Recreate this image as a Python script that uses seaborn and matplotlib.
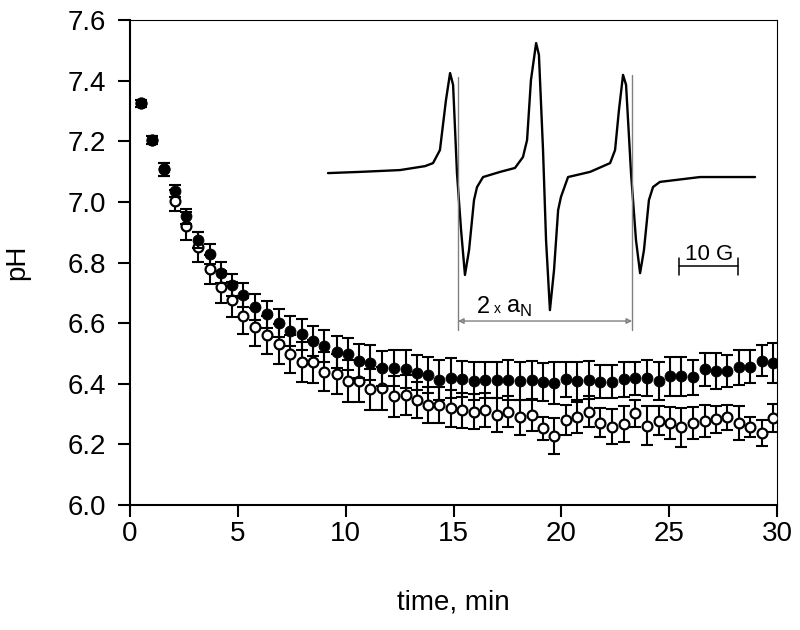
import matplotlib
matplotlib.use('Agg')
import matplotlib.pyplot as plt
import seaborn as sns
import numpy as np

# sampling times (min)
time_min = [0.5, 1.02, 1.58, 2.1, 2.6, 3.14, 3.7, 4.23, 4.74, 5.26,
            5.8, 6.37, 6.9, 7.43, 7.96, 8.5, 9.01, 9.58, 10.09, 10.62,
            11.15, 11.7, 12.23, 12.78, 13.31, 13.83, 14.34, 14.87, 15.41, 15.95,
            16.47, 17.0, 17.54, 18.07, 18.62, 19.15, 19.67, 20.2, 20.74, 21.28,
            21.81, 22.33, 22.9, 23.43, 23.97, 24.51, 25.04, 25.56, 26.1, 26.65,
            27.17, 27.7, 28.22, 28.76, 29.3, 29.83]

# filled circles
ph_filled = [7.325, 7.204, 7.107, 7.036, 6.953, 6.874, 6.828, 6.767, 6.726, 6.692,
             6.654, 6.629, 6.600, 6.574, 6.563, 6.541, 6.525, 6.506, 6.498, 6.475,
             6.469, 6.451, 6.453, 6.448, 6.436, 6.429, 6.412, 6.418, 6.416, 6.410,
             6.412, 6.412, 6.412, 6.410, 6.412, 6.407, 6.403, 6.415, 6.410, 6.412,
             6.407, 6.407, 6.415, 6.418, 6.418, 6.410, 6.425, 6.425, 6.421, 6.448,
             6.442, 6.442, 6.454, 6.456, 6.476, 6.467]
err_filled = [0.011, 0.013, 0.022, 0.02, 0.025, 0.027, 0.033, 0.035, 0.037, 0.039,
              0.042, 0.044, 0.046, 0.048, 0.05, 0.051, 0.052, 0.053, 0.054, 0.056,
              0.058, 0.058, 0.06, 0.062, 0.058, 0.06, 0.066, 0.066, 0.059, 0.063,
              0.06, 0.06, 0.066, 0.062, 0.064, 0.063, 0.069, 0.058, 0.062, 0.062,
              0.055, 0.055, 0.058, 0.055, 0.06, 0.063, 0.064, 0.064, 0.059, 0.055,
              0.058, 0.053, 0.057, 0.055, 0.052, 0.066]

# open circles
ph_open = [7.325, 7.204, 7.107, 7.004, 6.920, 6.852, 6.777, 6.720, 6.678, 6.624,
           6.588, 6.561, 6.530, 6.498, 6.473, 6.473, 6.440, 6.431, 6.409, 6.409,
           6.382, 6.385, 6.359, 6.363, 6.346, 6.330, 6.330, 6.319, 6.313, 6.308,
           6.313, 6.297, 6.308, 6.289, 6.297, 6.253, 6.228, 6.280, 6.289, 6.308,
           6.271, 6.258, 6.267, 6.302, 6.262, 6.278, 6.271, 6.256, 6.271, 6.278,
           6.283, 6.289, 6.271, 6.258, 6.238, 6.286]
err_open = [0.011, 0.013, 0.02, 0.034, 0.046, 0.05, 0.048, 0.053, 0.059, 0.06,
            0.063, 0.063, 0.066, 0.064, 0.066, 0.07, 0.064, 0.066, 0.068, 0.068,
            0.068, 0.071, 0.068, 0.066, 0.06, 0.06, 0.06, 0.06, 0.058, 0.058,
            0.057, 0.055, 0.051, 0.058, 0.052, 0.038, 0.06, 0.049, 0.052, 0.052,
            0.048, 0.058, 0.059, 0.043, 0.063, 0.048, 0.052, 0.063, 0.052, 0.052,
            0.044, 0.041, 0.056, 0.032, 0.042, 0.046]

# inset EPR spectrum, traced vertices (drawn in the axes' data units)
epr_x = [9.18, 10.66, 12.52, 13.68, 14.05, 14.37, 14.65, 14.84, 14.98, 15.16,
         15.35, 15.53, 15.72, 15.95, 16.09, 16.37, 17.16, 17.85, 18.22, 18.41,
         18.59, 18.83, 18.96, 19.15, 19.29, 19.47, 19.66, 19.85, 19.98, 20.31,
         21.33, 22.26, 22.49, 22.67, 22.86, 23.0, 23.23, 23.46, 23.65, 23.83,
         24.06, 24.25, 24.57, 26.43, 28.98]
epr_y = [7.095, 7.099, 7.105, 7.118, 7.128, 7.171, 7.336, 7.425, 7.386, 7.095,
         6.907, 6.759, 6.841, 7.006, 7.049, 7.082, 7.099, 7.112, 7.148, 7.204,
         7.402, 7.524, 7.485, 7.171, 6.874, 6.643, 6.775, 6.973, 7.016, 7.082,
         7.099, 7.128, 7.171, 7.303, 7.419, 7.386, 7.095, 6.874, 6.765, 6.841,
         7.006, 7.049, 7.066, 7.082, 7.082]

sns.set_style('ticks')
plt.rcParams['font.family'] = ['Liberation Sans', 'DejaVu Sans']
plt.rcParams['mathtext.fontset'] = 'custom'
plt.rcParams['mathtext.rm'] = 'Liberation Sans'
plt.rcParams['text.color'] = 'black'
plt.rcParams['axes.labelcolor'] = 'black'
plt.rcParams['axes.edgecolor'] = 'black'
plt.rcParams['xtick.color'] = 'black'
plt.rcParams['ytick.color'] = 'black'

fig = plt.figure(figsize=(8, 6.3), dpi=100)
ax = fig.add_axes([0.1625, 0.1984, 0.8088, 0.7698])

ax.errorbar(time_min, ph_open, yerr=err_open, fmt='none', ecolor='black',
            elinewidth=1.5, capsize=4, capthick=1.5, zorder=2)
sns.scatterplot(x=time_min, y=ph_open, ax=ax, marker='o', s=50, color='white',
                edgecolor='black', linewidth=1.6, zorder=3)
ax.errorbar(time_min, ph_filled, yerr=err_filled, fmt='none', ecolor='black',
            elinewidth=1.5, capsize=4, capthick=1.5, zorder=4)
sns.scatterplot(x=time_min, y=ph_filled, ax=ax, marker='o', s=62, color='black',
                edgecolor='black', linewidth=0.6, zorder=5)

# inset spectrum
sns.lineplot(x=epr_x, y=epr_y, ax=ax, sort=False, color='black', linewidth=1.7,
             estimator=None, zorder=6)
ax.plot([15.21, 15.21], [6.577, 7.412], color='#808080', lw=1.0, zorder=6)
ax.plot([23.28, 23.28], [6.577, 7.419], color='#808080', lw=1.0, zorder=6)
ax.annotate('', xy=(15.21, 6.607), xytext=(23.28, 6.607),
            arrowprops=dict(arrowstyle='<|-|>', color='#808080', lw=1.0,
                            mutation_scale=8, fill=False, shrinkA=0, shrinkB=0))
ax.text(16.4, 6.633, '2', fontsize=17, ha='center', va='baseline')
ax.text(17.05, 6.633, 'x', fontsize=10, ha='center', va='baseline')
ax.text(17.45, 6.633, r'a$_\mathrm{N}$', fontsize=17, ha='left', va='baseline')

# scale bar
ax.plot([25.46, 28.19], [6.788, 6.788], color='black', lw=1.1)
ax.plot([25.46, 25.46], [6.759, 6.815], color='black', lw=1.1)
ax.plot([28.19, 28.19], [6.759, 6.815], color='black', lw=1.1)
ax.text(26.85, 6.808, '10 G', fontsize=16, ha='center', va='baseline')

ax.set_xlim(0, 30)
ax.set_ylim(6.0, 7.6)
ax.set_xticks([0, 5, 10, 15, 20, 25, 30])
ax.set_yticks(np.round(np.arange(6.0, 7.61, 0.2), 1))
ax.set_yticklabels([f'{v:.1f}' for v in np.arange(6.0, 7.61, 0.2)])
ax.tick_params(direction='out', length=8.5, width=1.5, labelsize=20,
               colors='black', top=False, right=False)
ax.tick_params(axis='x', pad=3)
ax.tick_params(axis='y', pad=9)
for side in ['left', 'bottom']:
    ax.spines[side].set_linewidth(1.5)
for side in ['top', 'right']:
    ax.spines[side].set_linewidth(0.8)
    ax.spines[side].set_visible(True)
ax.set_xlabel('time, min', fontsize=20)
ax.set_ylabel('pH', fontsize=20)
ax.xaxis.set_label_coords(0.5, -0.175)
ax.yaxis.set_label_coords(-0.155, 0.5)

fig.savefig('out.png', dpi=100)
